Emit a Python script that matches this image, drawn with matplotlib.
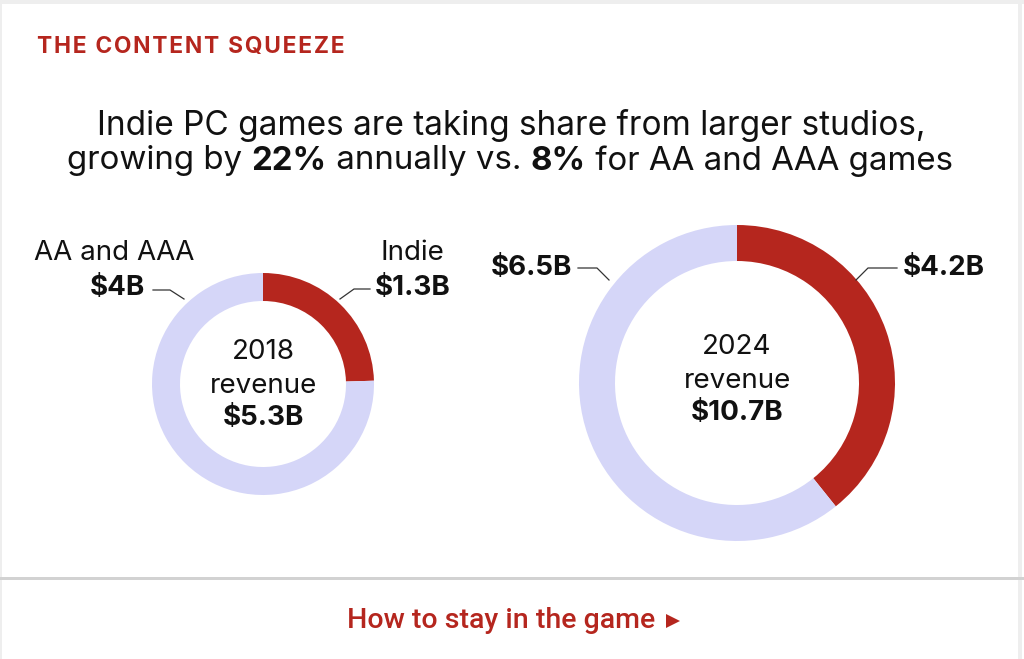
import matplotlib
matplotlib.use("Agg")
import matplotlib.pyplot as plt
from matplotlib.lines import Line2D
from matplotlib.patches import Rectangle

W, H = 1024, 659
RED = "#B5261E"
LAVENDER = "#D5D6F8"
INK = "#111111"
FONT = "Inter"

years = ["2018", "2024"]
indie = [1.3, 4.2]
aa_aaa = [4.0, 6.5]
totals = ["$5.3B", "$10.7B"]
indie_labels = ["$1.3B", "$4.2B"]
aa_labels = ["$4B", "$6.5B"]


def Y(y):
    return H - y


fig = plt.figure(figsize=(W / 100, H / 100), dpi=100)
ax = fig.add_axes([0, 0, 1, 1])

# donuts: center x, center y, radius, ring width
donuts = [(263, 384, 111, 28), (737, 383, 158, 36)]
for i, (cx, cy, r, w) in enumerate(donuts):
    ax.pie([indie[i], aa_aaa[i]], colors=[RED, LAVENDER], center=(cx, Y(cy)),
           radius=r, startangle=90, counterclock=False,
           wedgeprops=dict(width=w, linewidth=0))

ax.set_xlim(0, W)
ax.set_ylim(0, H)
ax.set_aspect("auto")
ax.axis("off")

# card borders
ax.add_patch(Rectangle((0, Y(4)), W, 4, color="#EEEEEE", lw=0))
ax.add_patch(Rectangle((0, 0), 2, H, color="#EEEEEE", lw=0))
ax.add_patch(Rectangle((1018, 0), 4, H, color="#EEEEEE", lw=0))
ax.add_patch(Rectangle((0, Y(580)), W, 3, color="#D2D2D2", lw=0))

# header with wide letter spacing
ax.text(37, Y(47), "\u200a".join("THE CONTENT SQUEEZE"), color=RED, fontsize=16.4,
        fontweight="bold", family=[FONT, "DejaVu Sans"], va="center", ha="left")

fig.canvas.draw()
rend = fig.canvas.get_renderer()


def rich_line(parts, xc, y, size):
    # parts: list of (text, bold)
    texts = []
    total = 0
    for s, b in parts:
        t = ax.text(0, Y(y), s, fontsize=size, fontweight="bold" if b else "normal",
                    family=FONT, va="center", ha="left", color=INK)
        wpx = t.get_window_extent(rend).width
        texts.append((t, wpx))
        total += wpx
    x = xc - total / 2
    for t, wpx in texts:
        t.set_x(x)
        x += wpx


rich_line([("Indie PC games are taking share from larger studios,", False)], 511, 125, 24)
rich_line([("growing by ", False), ("22%", True), (" annually vs. ", False),
           ("8%", True), (" for AA and AAA games", False)], 510, 161, 23.8)

# center labels
centers = [(263, 352, 386, 418), (737, 347, 381, 413)]
for i, (cx, y1, y2, y3) in enumerate(centers):
    ax.text(cx, Y(y1), years[i], ha="center", va="center", fontsize=20, family=FONT, color=INK)
    ax.text(cx, Y(y2), "revenue", ha="center", va="center", fontsize=20, family=FONT, color=INK)
    ax.text(cx, Y(y3), totals[i], ha="center", va="center", fontsize=20, family=FONT,
            fontweight="bold", color=INK)

# outer labels
ax.text(194, Y(253), "AA and AAA", ha="right", va="center", fontsize=20, family=FONT, color=INK)
ax.text(145, Y(288), aa_labels[0], ha="right", va="center", fontsize=20, family=FONT,
        fontweight="bold", color=INK)
ax.text(444, Y(253), "Indie", ha="right", va="center", fontsize=20, family=FONT, color=INK)
ax.text(375, Y(288), indie_labels[0], ha="left", va="center", fontsize=20, family=FONT,
        fontweight="bold", color=INK)
ax.text(572, Y(268), aa_labels[1], ha="right", va="center", fontsize=20, family=FONT,
        fontweight="bold", color=INK)
ax.text(903, Y(268), indie_labels[1], ha="left", va="center", fontsize=20, family=FONT,
        fontweight="bold", color=INK)

# leader lines
leaders = [
    [(153, 290), (170, 290), (184, 299)],
    [(370, 289), (354, 289), (340, 299)],
    [(578, 268), (597, 268), (609, 280)],
    [(897, 268), (868, 268), (856, 280)],
]
for pts in leaders:
    ax.add_line(Line2D([p[0] for p in pts], [Y(p[1]) for p in pts], color="#333333", lw=0.9))

# footer link
ax.text(501, Y(621), "How to stay in the game", ha="center", va="center", fontsize=20.5,
        family="Roboto", fontweight="medium", color=RED)
ax.plot([673], [Y(621)], marker=">", color=RED, markersize=10, markeredgewidth=0)

fig.savefig("out.png", dpi=100, facecolor="white")
